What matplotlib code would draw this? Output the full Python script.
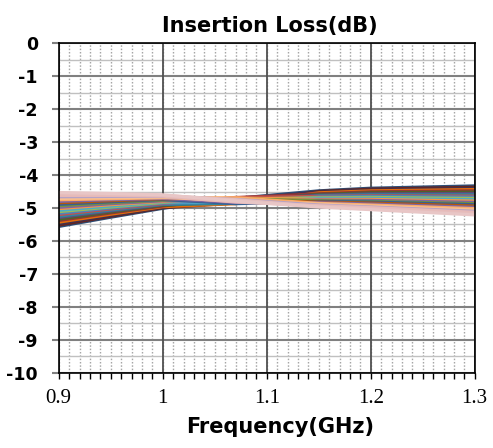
import matplotlib
matplotlib.use("Agg")
import matplotlib.pyplot as plt
import numpy as np
from matplotlib.ticker import MultipleLocator

# frequency points (GHz) and insertion loss (dB) of each trace at those points
freq = [0.9, 0.95, 1.0, 1.07, 1.15, 1.2, 1.3]
il_090 = [-5.56, -5.52, -5.47, -5.43, -5.38, -5.34, -5.29, -5.25, -5.20, -5.16, -5.11, -5.07,
          -5.02, -4.98, -4.93, -4.89, -4.84, -4.80, -4.75, -4.71, -4.66, -4.62, -4.57, -4.53]
il_095 = [-5.28, -5.25, -5.22, -5.19, -5.15, -5.12, -5.09, -5.06, -5.03, -5.00, -4.97, -4.94,
          -4.90, -4.87, -4.84, -4.81, -4.78, -4.75, -4.72, -4.69, -4.65, -4.62, -4.59, -4.56]
il_100 = [-5.01, -4.99, -4.97, -4.96, -4.94, -4.92, -4.90, -4.89, -4.87, -4.85, -4.83, -4.81,
          -4.80, -4.78, -4.76, -4.74, -4.72, -4.71, -4.69, -4.67, -4.65, -4.64, -4.62, -4.60]
il_107 = [-4.71, -4.85, -4.75, -4.87, -4.69, -4.81, -4.77, -4.86, -4.68, -4.82, -4.73, -4.84,
          -4.70, -4.79, -4.72, -4.87, -4.76, -4.83, -4.69, -4.80, -4.74, -4.82, -4.75, -4.79]
il_115 = [-4.48, -4.50, -4.52, -4.54, -4.57, -4.59, -4.61, -4.63, -4.65, -4.67, -4.69, -4.71,
          -4.74, -4.76, -4.78, -4.80, -4.82, -4.84, -4.86, -4.88, -4.91, -4.93, -4.95, -4.97]
il_120 = [-4.40, -4.43, -4.46, -4.48, -4.51, -4.54, -4.57, -4.60, -4.63, -4.65, -4.68, -4.71,
          -4.74, -4.77, -4.80, -4.82, -4.85, -4.88, -4.91, -4.94, -4.97, -4.99, -5.02, -5.05]
il_130 = [-4.33, -4.37, -4.41, -4.44, -4.48, -4.52, -4.56, -4.60, -4.64, -4.67, -4.71, -4.75,
          -4.79, -4.83, -4.87, -4.90, -4.94, -4.98, -5.02, -5.06, -5.10, -5.13, -5.17, -5.21]

colors = ["#2C4D75", "#632523", "#3F3151", "#E46C0A", "#953735", "#4F6228",
          "#604A7B", "#31859C", "#C0504D", "#4F81BD", "#9BBB59", "#4BACC6",
          "#F79646", "#8064A2", "#77933C", "#376092", "#B65708", "#8064A2",
          "#F9AB6B", "#FAC090", "#B3A2C7", "#E6B9B8", "#E6BDBC", "#E8C6C6"]

title = "Insertion Loss(dB)"
xlabel = "Frequency(GHz)"
xticks = [0.9, 1.0, 1.1, 1.2, 1.3]
xticklabels = ["0.9", "1", "1.1", "1.2", "1.3"]
yticks = list(range(-10, 1))

fig = plt.figure(figsize=(4.93, 4.48), dpi=100)
ax = fig.add_axes([0.1191, 0.1681, 0.8438, 0.7353])

curves = np.array([il_090, il_095, il_100, il_107, il_115, il_120, il_130]).T
for vals, c in zip(curves, colors):
    ax.plot(freq, vals, color=c, lw=2.3, solid_joinstyle="round", zorder=3)

ax.set_xlim(0.9, 1.3)
ax.set_ylim(-10, 0)

# grid: dotted minor verticals, light half-dB horizontals, dark majors
for x in np.arange(0.9, 1.3001, 0.01):
    ax.axvline(x, color="#a6a6a6", lw=1.0, ls=(0, (1.1, 1.3)), zorder=1)
for y in np.arange(-9.5, 0, 1.0):
    ax.axhline(y, color="#c0c0c0", lw=1.0, zorder=1)
for y in yticks:
    ax.axhline(y, color="#808080", lw=1.5, zorder=1.5)
for x in xticks:
    ax.axvline(x, color="#505050", lw=1.3, zorder=1.5)

for s in ax.spines.values():
    s.set_color("black")
    s.set_linewidth(1.2)
    s.set_zorder(4)

ax.set_xticks(xticks)
ax.set_xticklabels(xticklabels, fontfamily="Liberation Serif", fontsize=15)
ax.xaxis.set_minor_locator(MultipleLocator(0.01))
ax.tick_params(axis="x", which="both", direction="out", length=4, width=1, color="black", pad=8)
ax.set_yticks(yticks)
ax.set_yticklabels([str(v) for v in yticks], fontweight="bold", fontsize=12.5)
ax.tick_params(axis="y", which="major", direction="out", length=5, width=1.5, color="#808080", pad=10)

ax.set_title(title, fontweight="bold", fontsize=15, pad=8, x=0.508)
ax.set_xlabel(xlabel, fontweight="bold", fontsize=15, labelpad=6, x=0.532)

fig.savefig("out.png", dpi=100)
